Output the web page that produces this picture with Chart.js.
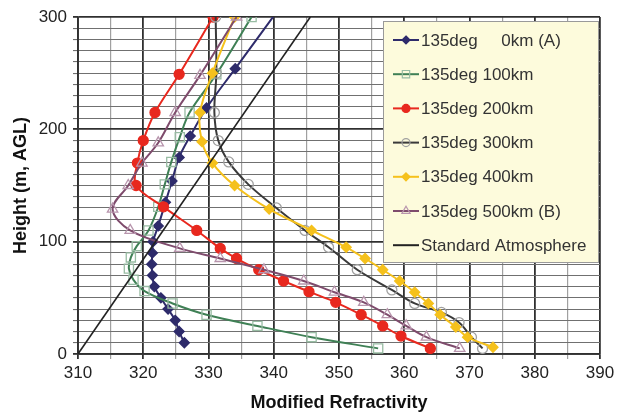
<!DOCTYPE html>
<html><head><meta charset="utf-8">
<script src="https://cdn.jsdelivr.net/npm/chart.js@4"></script>
<style>html,body{margin:0;padding:0;background:#fff}canvas{display:block}</style>
</head><body>
<canvas id="c" width="627" height="412"></canvas>
<script>
// ---- data (heights in m AGL, modified refractivity M) ----
const seriesNames = ['135deg     0km (A)','135deg 100km','135deg 200km','135deg 300km','135deg 400km','135deg 500km (B)','Standard Atmosphere'];

const hA = [10,20,30,40,50,60,70,80,90,100,114,135,154,175,194,219,254,320];
const mA = [326.3,325.5,324.9,323.8,322.7,321.7,321.4,321.3,321.4,321.5,322.3,323.4,324.4,325.5,327.2,329.7,334.1,342.4];

const h100 = [5,15,25,35,45,56,66,76,86,96,110,131,151,171,193,215,249,300];
const m100 = [356,345.8,337.5,329.7,324.5,320.2,318.5,317.8,318.1,319,320.8,322.3,323.3,324.3,325.6,327.1,331.2,336.6];

const h200 = [5,16,25,35,46,55.5,65,75,85,94,110,131,150,170,190,215,249,300];
const m200 = [364,359.5,356.7,353.4,349.5,345.4,341.5,337.7,334.3,331.8,328.2,323.1,318.9,319.1,320,321.8,325.5,330.7];

const h300 = [5,15,28,37,45,57,75,95,110,130,151,171,190,215,250,300];
const m300 = [372,370.3,368.4,365.7,361.6,358.1,352.8,348.4,344.8,340.4,336.1,333.1,331.5,330.9,331.2,331.1];

const h400 = [6,15,24,35,45,55,65,75,85,95,110,129,150,170,189,215,250,300];
const m400 = [373.6,369.7,367.9,365.5,363.7,361.6,359.3,356.7,354,351.1,345.8,339.3,334,330.6,329,328.7,330.6,334];

const hB = [5,15,25,35,46,55,65,75,85,94,110,129,150,170,188,215,248,300];
const mB = [368.5,363.4,360.3,357.4,353.8,349.3,344.6,338.5,331.8,325.6,318,315.3,317.7,319.8,322.3,324.9,328.7,334.3];

const hStd = [0,300];
const mStd = [310,345.6];

const xTicks = [310,320,330,340,350,360,370,380,390];
const yTicks = [0,100,200,300];

// ---- styling ----
const FONT = '"Liberation Sans", Arial, sans-serif';
function pts(h,m){ return h.map((y,i)=>({x:m[i], y:y})); }

const styles = [
  {line:'#2E2B6B', bg:'#2E2B6B', bd:'#2E2B6B', ps:'rectRot', r:5},
  {line:'#3F8055', bg:'rgba(255,255,255,0)', bd:'#98BCA3', ps:'rect', r:6.5},
  {line:'#E8281E', bg:'#E8281E', bd:'#E8281E', ps:'circle', r:5},
  {line:'#3A3A3A', bg:'rgba(255,255,255,0)', bd:'#A0A0A0', ps:'circle', r:5},
  {line:'#F5C11C', bg:'#F5C11C', bd:'#F5C11C', ps:'rectRot', r:5},
  {line:'#7E4B6C', bg:'rgba(255,255,255,0)', bd:'#B895AD', ps:'triangle', r:6},
  {line:'#222222', bg:'#222', bd:'#222', ps:'circle', r:0}
];
const allData = [pts(hA,mA),pts(h100,m100),pts(h200,m200),pts(h300,m300),pts(h400,m400),pts(hB,mB),pts(hStd,mStd)];

const datasets = allData.map((d,i)=>({
  label: seriesNames[i],
  data: d,
  showLine: true,
  borderColor: styles[i].line,
  borderWidth: i===6 ? 1.6 : 2,
  backgroundColor: styles[i].bg,
  pointStyle: styles[i].ps,
  pointRadius: styles[i].r,
  pointBackgroundColor: styles[i].bg,
  pointBorderColor: styles[i].bd,
  pointBorderWidth: 1.3,
  tension: i===6 ? 0 : 0.35,
  order: 10 - i
}));

function drawMarker(ctx, s, x, y, r){
  if (!r) return;
  ctx.save();
  ctx.beginPath();
  if (s.ps==='circle') ctx.arc(x,y,r,0,Math.PI*2);
  else if (s.ps==='rect'){ const a=r*0.707; ctx.rect(x-a,y-a,2*a,2*a); }
  else if (s.ps==='rectRot'){ ctx.moveTo(x,y-r); ctx.lineTo(x+r,y); ctx.lineTo(x,y+r); ctx.lineTo(x-r,y); ctx.closePath(); }
  else if (s.ps==='triangle'){ ctx.moveTo(x,y-r); ctx.lineTo(x+r*0.866,y+r*0.5); ctx.lineTo(x-r*0.866,y+r*0.5); ctx.closePath(); }
  ctx.fillStyle=s.bg; ctx.fill();
  ctx.lineWidth=1.2; ctx.strokeStyle=s.bd; ctx.stroke();
  ctx.restore();
}

const legendBox = {
  id:'legendBox',
  afterDatasetsDraw(chart){
    const ctx = chart.ctx;
    const x0=383, y0=21, w=215, h=241, rowH=34.2, firstY=40;
    ctx.save();
    ctx.fillStyle='#FDFBDC';
    ctx.fillRect(x0,y0,w,h);
    ctx.strokeStyle='#9a9a9a'; ctx.lineWidth=1;
    ctx.strokeRect(x0+0.5,y0+0.5,w,h);
    ctx.font='17px '+FONT;
    ctx.textBaseline='middle';
    ctx.textAlign='left';
    seriesNames.forEach((name,i)=>{
      const yy = firstY + i*rowH;
      const s = styles[i];
      ctx.beginPath();
      ctx.moveTo(393,yy); ctx.lineTo(419,yy);
      ctx.strokeStyle=s.line; ctx.lineWidth=2; ctx.stroke();
      drawMarker(ctx, s, 406, yy, s.r ? s.r*0.8 : 0);
      ctx.fillStyle='#333';
      ctx.fillText(name, 421, yy+1);
    });
    ctx.restore();
  }
};

new Chart(document.getElementById('c'), {
  type:'scatter',
  data:{datasets},
  plugins:[legendBox],
  options:{
    responsive:false,
    animation:false,
    devicePixelRatio:1,
    layout:{padding:{left:0,right:27,top:17,bottom:0}},
    plugins:{legend:{display:false}, tooltip:{enabled:false}},
    scales:{
      x:{
        type:'linear', min:310, max:390,
        afterFit(s){ s.height = 58; },
        ticks:{stepSize:5, autoSkip:false, maxRotation:0, padding:4, color:'#222',
          font:{family:FONT,size:17},
          callback:(v)=> xTicks.includes(v) ? String(v) : ''},
        grid:{
          color:(c)=> (c.tick && xTicks.includes(c.tick.value)) ? '#303030' : '#A0A0A0',
          lineWidth:(c)=> (c.tick && xTicks.includes(c.tick.value)) ? 1.8 : 1.2,
          tickLength:5, drawTicks:true
        },
        border:{display:true, color:'#303030', width:1.8},
        title:{display:true, text:'Modified Refractivity', color:'#111', padding:0,
          font:{family:FONT,size:18,weight:'bold',lineHeight:1}}
      },
      y:{
        type:'linear', min:0, max:300,
        afterFit(s){ s.width = 78; },
        ticks:{stepSize:10, autoSkip:false, padding:6, color:'#222',
          font:{family:FONT,size:17},
          callback:(v)=> yTicks.includes(v) ? String(v) : ''},
        grid:{
          color:(c)=> (c.tick && yTicks.includes(c.tick.value)) ? '#303030' : '#707070',
          lineWidth:(c)=> (c.tick && yTicks.includes(c.tick.value)) ? 1.8 : 1.1,
          tickLength:5, drawTicks:true
        },
        border:{display:true, color:'#303030', width:1.8},
        title:{display:true, text:'Height (m, AGL)', color:'#111', padding:{top:12,bottom:0},
          font:{family:FONT,size:18,weight:'bold',lineHeight:1}}
      }
    }
  }
});
</script>
</body></html>
